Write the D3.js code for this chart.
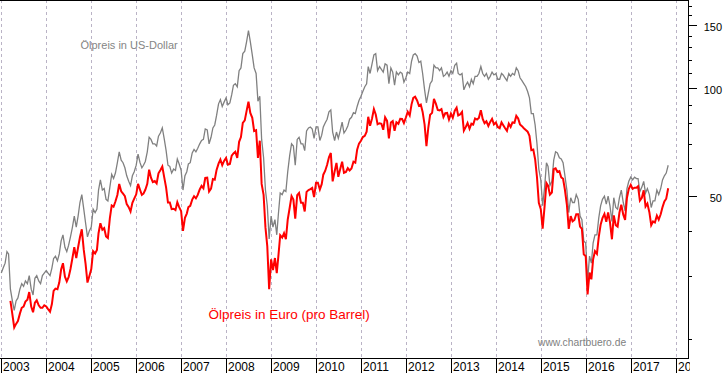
<!DOCTYPE html>
<html>
<head>
<meta charset="utf-8">
<script src="https://cdn.jsdelivr.net/npm/d3@7"></script>
<style>
  body { margin: 0; background: #fff; }
  svg { display: block; font-family: Arial, "Liberation Sans", sans-serif; }
</style>
</head>
<body>
<script>
// Brent-Ölpreis, Halbmonatswerte (1. und 16. jedes Monats)
var usd2003 = [30.5, 31.5, 32.5, 35.0, 34.5, 27.5, 25.5, 24.0, 25.5, 26.0, 27.5, 28.5, 28.0, 29.0, 28.5, 30.0, 27.5, 26.5, 29.5, 30.0, 29.0, 28.5, 30.0, 30.5];
var usd2004 = [31.0, 30.5, 30.0, 31.5, 33.5, 34.0, 33.0, 34.5, 37.5, 39.0, 36.0, 35.0, 36.5, 38.5, 41.0, 44.0, 41.0, 44.0, 48.0, 50.5, 46.0, 42.0, 38.5, 40.0];
var usd2005 = [41.0, 46.0, 45.0, 46.0, 52.0, 55.5, 52.0, 52.5, 49.0, 48.5, 53.0, 57.5, 56.0, 58.0, 62.0, 66.5, 63.0, 62.0, 60.0, 57.0, 55.0, 53.5, 57.0, 58.5];
var usd2006 = [61.0, 65.5, 62.0, 60.0, 61.0, 62.5, 66.5, 73.0, 72.0, 70.0, 70.0, 69.0, 73.5, 75.0, 77.5, 72.5, 67.0, 61.0, 60.5, 58.0, 59.5, 59.0, 63.5, 61.5];
var usd2007 = [59.0, 52.0, 57.0, 58.5, 61.5, 62.0, 66.0, 67.5, 66.5, 68.0, 70.0, 71.5, 72.0, 77.0, 76.5, 70.0, 73.0, 77.5, 79.0, 84.0, 90.5, 93.0, 89.0, 91.5];
var usd2008 = [94.0, 90.0, 91.0, 96.0, 102.0, 103.0, 101.0, 112.0, 114.0, 125.0, 127.0, 135.0, 145.0, 135.0, 124.0, 114.0, 110.0, 92.0, 95.0, 72.0, 64.0, 52.0, 47.0, 38.0];
var usd2009 = [44.0, 41.0, 43.0, 39.0, 44.5, 51.0, 50.5, 52.0, 51.5, 58.5, 65.0, 70.0, 69.0, 61.0, 72.0, 73.0, 70.0, 70.0, 67.0, 76.0, 77.5, 78.0, 77.0, 72.5];
var usd2010 = [78.0, 78.0, 71.5, 74.0, 78.0, 80.0, 82.0, 86.0, 87.0, 75.5, 71.5, 75.5, 72.5, 76.0, 80.5, 75.0, 76.5, 78.5, 82.0, 83.0, 85.5, 85.0, 89.0, 92.5];
var usd2011 = [95.0, 98.0, 101.0, 103.0, 115.0, 110.0, 117.0, 124.0, 125.0, 112.0, 115.0, 113.0, 111.0, 117.0, 116.0, 103.0, 114.0, 111.0, 102.0, 111.0, 109.0, 111.0, 110.0, 104.0];
var usd2012 = [107.0, 111.0, 110.0, 119.0, 124.0, 125.0, 123.0, 118.0, 119.0, 110.0, 99.0, 91.0, 97.0, 103.0, 105.0, 116.0, 114.0, 114.0, 112.0, 114.0, 108.0, 109.0, 111.0, 108.0];
var usd2013 = [112.0, 110.0, 116.0, 117.5, 110.0, 109.0, 110.0, 99.0, 102.0, 104.0, 101.0, 106.0, 103.0, 108.0, 108.0, 110.0, 115.0, 110.0, 108.0, 110.0, 106.0, 108.0, 111.0, 109.0];
var usd2014 = [110.0, 106.0, 106.0, 110.0, 109.0, 107.0, 105.0, 110.0, 108.0, 110.0, 109.0, 114.0, 112.0, 107.0, 105.0, 103.0, 101.0, 98.0, 94.0, 85.0, 85.0, 79.0, 70.0, 59.5];
var usd2015 = [55.5, 47.0, 53.0, 62.0, 60.5, 53.5, 55.0, 63.0, 66.5, 66.0, 64.0, 63.5, 62.0, 57.0, 52.0, 45.0, 49.5, 48.0, 48.0, 50.5, 49.0, 44.0, 43.0, 37.5];
var usd2016 = [37.0, 29.0, 34.0, 32.5, 37.0, 39.0, 39.0, 43.5, 47.0, 49.0, 50.0, 47.5, 50.0, 47.0, 42.5, 49.5, 46.5, 46.0, 49.5, 52.0, 48.0, 45.5, 52.5, 55.0];
var usd2017 = [56.5, 55.5, 56.5, 56.0, 56.0, 51.5, 53.0, 55.0, 51.0, 52.5, 50.5, 46.5, 48.5, 48.5, 52.0, 50.5, 52.5, 55.5, 57.0, 58.0, 61.0];

var eur2003 = [null, null, null, null, null, 25.5, 23.4, 21.5, 22.0, 22.4, 23.5, 24.4, 24.6, 25.4, 25.7, 27.0, 24.6, 23.7, 25.2, 25.6, 24.8, 24.4, 24.4, 24.8];
var eur2004 = [24.6, 24.2, 23.8, 25.0, 27.2, 27.6, 27.5, 28.7, 31.2, 32.5, 29.8, 28.9, 29.7, 31.3, 33.6, 36.0, 33.6, 36.0, 38.4, 40.4, 35.4, 32.3, 28.7, 29.9];
var eur2005 = [31.3, 35.1, 34.6, 35.4, 39.4, 42.0, 40.3, 40.7, 38.6, 38.2, 43.4, 47.1, 46.7, 48.3, 50.4, 54.1, 51.6, 50.8, 50.0, 47.5, 46.6, 45.3, 47.9, 49.2];
var eur2006 = [50.6, 54.1, 52.1, 50.4, 50.8, 52.1, 54.1, 59.3, 56.3, 54.7, 55.1, 54.3, 57.9, 59.1, 60.5, 56.6, 52.8, 48.0, 48.0, 46.0, 46.1, 45.7, 48.1, 46.6];
var eur2007 = [45.4, 40.0, 43.5, 44.7, 46.6, 47.0, 48.9, 50.0, 49.3, 50.4, 52.2, 53.4, 52.6, 56.2, 56.3, 51.5, 52.5, 55.8, 55.6, 59.2, 61.6, 63.3, 61.0, 62.7];
var eur2008 = [63.9, 61.2, 61.5, 64.9, 65.8, 66.5, 63.9, 70.9, 73.1, 80.1, 81.4, 86.5, 91.8, 85.4, 82.7, 76.0, 76.4, 63.9, 71.4, 54.1, 50.4, 40.9, 36.2, 27.5];
var eur2009 = [33.3, 31.1, 33.6, 30.5, 34.0, 38.9, 38.3, 39.4, 37.9, 43.0, 46.4, 50.0, 48.9, 43.3, 50.3, 51.0, 47.9, 47.9, 45.3, 51.4, 52.0, 52.3, 52.7, 49.7];
var eur2010 = [54.5, 54.5, 52.2, 54.0, 57.4, 58.8, 61.2, 64.2, 66.0, 55.0, 58.6, 61.9, 56.6, 59.4, 62.4, 58.1, 58.4, 59.9, 59.0, 59.7, 62.4, 62.0, 67.4, 70.1];
var eur2011 = [71.4, 73.1, 73.7, 75.7, 83.3, 78.6, 82.4, 87.5, 84.5, 79.4, 79.9, 79.6, 76.6, 83.0, 81.1, 72.5, 80.3, 81.0, 76.1, 80.4, 79.6, 82.2, 82.1, 80.0];
var eur2012 = [82.9, 86.0, 84.0, 90.2, 94.0, 94.7, 92.5, 89.4, 90.1, 85.9, 79.2, 69.0, 77.6, 84.4, 85.4, 93.5, 90.5, 87.0, 86.8, 87.5, 83.1, 85.2, 85.4, 81.8];
var eur2013 = [85.0, 82.7, 86.6, 88.3, 84.0, 84.5, 85.9, 76.2, 77.9, 80.0, 77.1, 79.7, 79.2, 82.4, 81.8, 82.7, 86.9, 82.1, 79.9, 80.9, 78.5, 80.6, 82.2, 79.3];
var eur2014 = [80.3, 78.0, 77.4, 80.3, 79.0, 77.5, 76.1, 79.7, 78.0, 80.3, 80.1, 83.8, 82.4, 79.3, 78.4, 77.4, 76.5, 75.7, 73.7, 67.2, 67.5, 63.4, 56.5, 47.9];
var eur2015 = [46.0, 40.6, 46.9, 54.4, 53.5, 50.5, 51.2, 59.5, 59.8, 58.4, 58.7, 56.4, 55.9, 52.1, 47.3, 40.5, 44.0, 42.5, 42.9, 44.5, 44.5, 41.1, 40.5, 34.4];
var eur2016 = [34.0, 26.6, 30.6, 29.3, 33.3, 35.1, 34.5, 38.5, 41.6, 43.4, 44.6, 42.4, 45.0, 42.3, 37.9, 44.2, 41.5, 41.1, 45.0, 47.3, 44.4, 42.9, 49.5, 52.4];
var eur2017 = [53.8, 52.4, 52.8, 52.8, 53.3, 48.6, 49.5, 51.9, 46.8, 47.7, 45.1, 41.5, 42.5, 42.2, 44.1, 43.0, 44.5, 46.6, 48.3, 49.2, 52.6];

var usdYears = [usd2003, usd2004, usd2005, usd2006, usd2007, usd2008, usd2009, usd2010,
                usd2011, usd2012, usd2013, usd2014, usd2015, usd2016, usd2017];
var eurYears = [eur2003, eur2004, eur2005, eur2006, eur2007, eur2008, eur2009, eur2010,
                eur2011, eur2012, eur2013, eur2014, eur2015, eur2016, eur2017];

var firstYear = 2003;
var yearLabels = ["2003", "2004", "2005", "2006", "2007", "2008", "2009", "2010",
                  "2011", "2012", "2013", "2014", "2015", "2016", "2017", "2018"];
var majorTicks = [50, 100, 150];
var minorTicks = [20, 30, 40, 60, 70, 80, 90, 110, 120, 130, 140, 160, 170];

var width = 724, height = 373;
var plotRight = 688, plotBottom = 358;

function toPoints(years) {
    var pts = [];
    years.forEach(function(vals, yi) {
        vals.forEach(function(v, i) {
            pts.push({ date: new Date(firstYear + yi, Math.floor(i / 2), i % 2 ? 16 : 1), value: v });
        });
    });
    return pts;
}

var usdData = toPoints(usdYears);
var eurData = toPoints(eurYears);

var svg = d3.select("body")
    .append("svg")
    .attr("width", width)
    .attr("height", height);

// year labels are cut off at the right axis
svg.append("defs").append("clipPath")
    .attr("id", "xclip")
    .append("rect")
    .attr("x", 0).attr("y", plotBottom)
    .attr("width", plotRight + 2).attr("height", height - plotBottom);

var x = d3.scaleTime()
    .domain([new Date(2003, 0, 1), new Date(2018, 0, 1)])
    .range([1.3, 675.7]);

var y = d3.scaleLog()
    .domain([17.67, 176.4])
    .range([plotBottom, 0]);

// vertical dashed grid at each year
var yearDates = yearLabels.map(function(t) { return new Date(+t, 0, 1); });

svg.append("g")
    .selectAll("line")
    .data(yearDates)
    .enter().append("line")
    .attr("x1", function(d) { return Math.round(x(d)) + 0.5; })
    .attr("x2", function(d) { return Math.round(x(d)) + 0.5; })
    .attr("y1", 0)
    .attr("y2", plotBottom)
    .style("stroke", "#bab3c6")
    .style("stroke-dasharray", "3,3")
    .style("shape-rendering", "crispEdges");

// price lines
var line = d3.line()
    .defined(function(d) { return d.value != null; })
    .x(function(d) { return x(d.date); })
    .y(function(d) { return y(d.value); });

svg.append("path")
    .datum(usdData)
    .attr("d", line)
    .style("fill", "none")
    .style("stroke", "#808080")
    .style("stroke-width", 1.3);

svg.append("path")
    .datum(eurData)
    .attr("d", line)
    .style("fill", "none")
    .style("stroke", "#ff0000")
    .style("stroke-width", 2);

// frame: top, right axis, bottom axis
svg.append("line")
    .attr("x1", 0).attr("x2", plotRight + 0.5)
    .attr("y1", 0.5).attr("y2", 0.5)
    .style("stroke", "#000");

svg.append("line")
    .attr("x1", 0).attr("x2", plotRight + 1)
    .attr("y1", plotBottom + 0.5).attr("y2", plotBottom + 0.5)
    .style("stroke", "#000");

svg.append("line")
    .attr("x1", plotRight + 0.5).attr("x2", plotRight + 0.5)
    .attr("y1", 0).attr("y2", plotBottom + 1)
    .style("stroke", "#000");

// right log axis
var yAxis = svg.append("g");

yAxis.selectAll(".minor")
    .data(minorTicks)
    .enter().append("line")
    .attr("class", "minor")
    .attr("x1", plotRight).attr("x2", plotRight + 4)
    .attr("y1", function(d) { return Math.round(y(d)) + 0.5; })
    .attr("y2", function(d) { return Math.round(y(d)) + 0.5; })
    .style("stroke", "#000");

yAxis.selectAll(".major")
    .data(majorTicks)
    .enter().append("line")
    .attr("class", "major")
    .attr("x1", plotRight).attr("x2", plotRight + 9)
    .attr("y1", function(d) { return Math.round(y(d)) + 0.5; })
    .attr("y2", function(d) { return Math.round(y(d)) + 0.5; })
    .style("stroke", "#000");

yAxis.selectAll("text")
    .data(majorTicks)
    .enter().append("text")
    .attr("x", 722)
    .attr("y", function(d) { return y(d) + 5.5; })
    .style("text-anchor", "end")
    .style("font-size", "11px")
    .style("fill", "#000")
    .text(function(d) { return d; });

// year ticks and labels below the axis
var xAxis = svg.append("g")
    .attr("clip-path", "url(#xclip)");

xAxis.selectAll("line")
    .data(yearDates)
    .enter().append("line")
    .attr("x1", function(d) { return Math.round(x(d)) + 0.5; })
    .attr("x2", function(d) { return Math.round(x(d)) + 0.5; })
    .attr("y1", plotBottom)
    .attr("y2", height)
    .style("stroke", "#000");

xAxis.selectAll("text")
    .data(yearLabels)
    .enter().append("text")
    .attr("x", function(d) { return Math.round(x(new Date(+d, 0, 1))) + 2; })
    .attr("y", 371)
    .style("font-size", "12px")
    .style("fill", "#000")
    .text(function(d) { return d; });

// labels
svg.append("text")
    .attr("x", 80.5)
    .attr("y", 49)
    .style("font-size", "11px")
    .style("fill", "#858585")
    .text("Ölpreis in US-Dollar");

svg.append("text")
    .attr("x", 208.5)
    .attr("y", 319)
    .style("font-size", "13.5px")
    .style("fill", "#ff0000")
    .text("Ölpreis in Euro (pro Barrel)");

svg.append("text")
    .attr("x", 538)
    .attr("y", 345.5)
    .style("font-size", "10.3px")
    .style("fill", "#808080")
    .text("www.chartbuero.de");
</script>
</body>
</html>
